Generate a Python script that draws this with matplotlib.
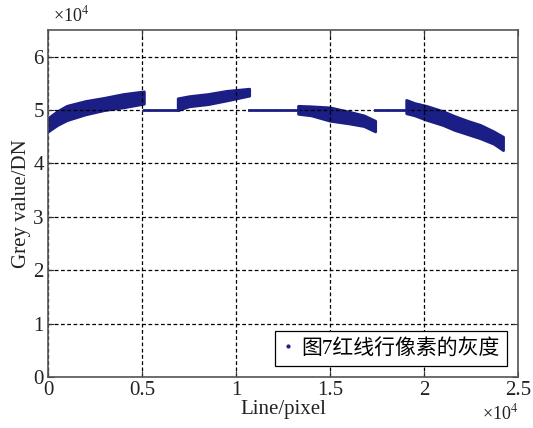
import matplotlib
matplotlib.use("Agg")
import matplotlib.pyplot as plt
from matplotlib.lines import Line2D
from matplotlib.ticker import FuncFormatter, MultipleLocator

# grey value bands of the four imaging segments (lower / upper envelope, DN)
seg1_x = [0, 500, 1000, 2000, 3000, 4000, 5100]
seg1_hi = [48500, 49800, 50800, 51700, 52300, 53000, 53500]
seg1_lo = [46000, 47200, 48100, 49200, 50000, 50500, 51200]

seg2_x = [6900, 7500, 8500, 9500, 10700]
seg2_hi = [52200, 52600, 53000, 53600, 54000]
seg2_lo = [50000, 50700, 51100, 51800, 52700]

seg3_x = [13300, 14000, 15000, 16000, 16800, 17400]
seg3_hi = [50800, 50700, 50500, 49700, 49000, 48000]
seg3_lo = [49300, 49000, 48000, 47500, 47000, 46000]

seg4_x = [19050, 19500, 20100, 21000, 21600, 22300, 23000, 23700, 24200]
seg4_hi = [51900, 51300, 50800, 49800, 48900, 48000, 47200, 46000, 45000]
seg4_lo = [49400, 49000, 48200, 47200, 46300, 45500, 44700, 43700, 42500]

# constant fill between segments
gap_x = [(5100, 6900), (10700, 13300), (17400, 19050)]
gap_y = 50000

segments = [(seg1_x, seg1_lo, seg1_hi), (seg2_x, seg2_lo, seg2_hi),
            (seg3_x, seg3_lo, seg3_hi), (seg4_x, seg4_lo, seg4_hi)]

legend_label = "图7红线行像素的灰度"
blue = "#1b1e85"
txt = "#222222"

plt.rcParams["font.family"] = ["Liberation Serif", "Noto Sans CJK SC"]
plt.rcParams["mathtext.fontset"] = "stix"
plt.rcParams["font.size"] = 15

fig = plt.figure(figsize=(5.33, 4.28), dpi=100)
ax = fig.add_axes([0.090, 0.119, 0.882, 0.811])

for xs, lo, hi in segments:
    ax.fill_between(xs, lo, hi, color=blue, linewidth=2, edgecolor=blue)
for x0, x1 in gap_x:
    ax.plot([x0, x1], [gap_y, gap_y], color=blue, linewidth=2)

ax.set_xlim(0, 25000)
ax.set_ylim(0, 65000)
ax.xaxis.set_major_locator(MultipleLocator(5000))
ax.yaxis.set_major_locator(MultipleLocator(10000))
fmt = FuncFormatter(lambda v, p: "%g" % (v / 1e4))
ax.xaxis.set_major_formatter(fmt)
ax.yaxis.set_major_formatter(fmt)

ax.grid(True, color="black", linestyle=(0, (3, 2)), linewidth=0.9)
ax.tick_params(direction="in", top=True, right=True, length=4, labelsize=15, colors="#333333",
               labelcolor=txt, pad=3)
for s in ax.spines.values():
    s.set_color("#555555")
    s.set_linewidth(1.2)

ax.set_xlabel("Line/pixel", fontsize=15, labelpad=0, color=txt)
ax.set_ylabel("Grey value/DN", fontsize=15, labelpad=2, color=txt)

ax.text(0.01, 1.012, r"×10$^4$", transform=ax.transAxes, fontsize=13, ha="left", va="bottom",
        color=txt)
ax.text(1.0, -0.075, r"×10$^4$", transform=ax.transAxes, fontsize=13, ha="right", va="top",
        color=txt)

handle = Line2D([], [], color=blue, marker=".", markersize=4, linestyle="none")
leg = ax.legend([handle], [legend_label], loc="lower right", fontsize=15, fancybox=False,
                edgecolor="black", framealpha=1, handlelength=0.6, handletextpad=0.3,
                borderaxespad=0.55, borderpad=0.35)
leg.get_frame().set_linewidth(0.9)

fig.savefig("out.png", dpi=100)
